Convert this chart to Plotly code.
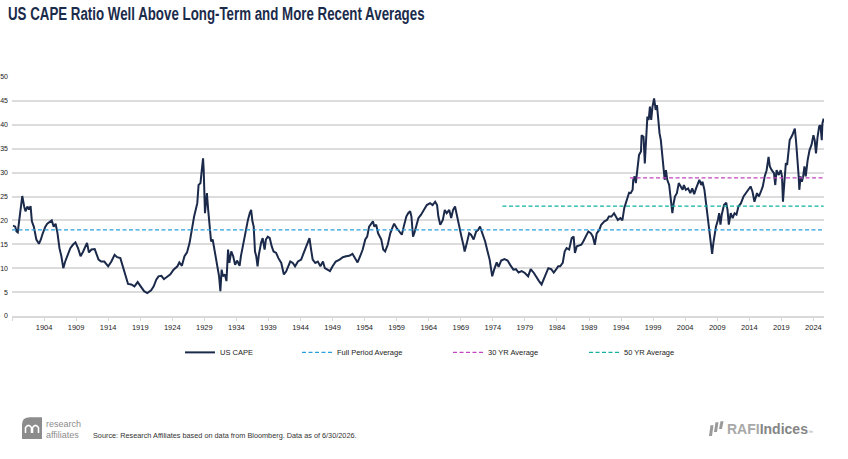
import plotly.graph_objects as go

# ---- data ----
years = [
    1899.16, 1899.5, 1899.7, 1899.9, 1900.2, 1900.45, 1900.6, 1900.9, 1901.1, 1901.4, 1901.65, 1901.9,
    1902.1, 1902.4, 1902.8, 1903.2, 1903.5, 1903.8, 1904.2, 1904.5, 1904.9, 1905.2, 1905.5, 1905.8,
    1906.1, 1906.4, 1906.7, 1907.0, 1907.3, 1907.7, 1908.1, 1908.5, 1908.9, 1909.3, 1909.7, 1910.1,
    1910.4, 1910.7, 1911.0, 1911.4, 1911.9, 1912.1, 1912.5, 1912.9, 1913.4, 1914.0, 1914.5, 1915.0,
    1915.4, 1915.9, 1916.3, 1916.7, 1917.1, 1917.6, 1918.1, 1918.6, 1919.1, 1919.6, 1920.1, 1920.6,
    1920.7, 1921.1, 1921.5, 1921.85, 1922.3, 1922.7, 1923.2, 1923.7, 1924.2, 1924.8, 1925.1, 1925.5,
    1925.9, 1926.3, 1926.7, 1927.05, 1927.4, 1927.6, 1927.9, 1928.1, 1928.4, 1928.6, 1928.8, 1928.9,
    1929.1, 1929.3, 1929.4, 1929.6, 1929.85, 1930.05, 1930.3, 1930.6, 1930.8, 1931.1, 1931.3, 1931.5,
    1931.7, 1931.9, 1932.2, 1932.45, 1932.7, 1932.9, 1933.2, 1933.5, 1933.8, 1934.1, 1934.5, 1934.7,
    1935.0, 1935.3, 1935.5, 1935.8, 1936.1, 1936.3, 1936.5, 1936.7, 1936.9, 1937.1, 1937.3, 1937.5,
    1937.85, 1938.1, 1938.4, 1938.6, 1938.9, 1939.2, 1939.5, 1939.8, 1940.2, 1940.55, 1941.0, 1941.4,
    1941.75, 1942.1, 1942.4, 1942.8, 1943.15, 1943.6, 1944.1, 1944.5, 1944.9, 1945.2, 1945.4, 1945.65,
    1945.9, 1946.3, 1946.7, 1947.1, 1947.5, 1947.8, 1948.2, 1948.6, 1949.0, 1949.5, 1950.1, 1950.6,
    1951.1, 1951.6, 1952.1, 1952.5, 1952.9, 1953.3, 1953.7, 1954.1, 1954.4, 1954.7, 1955.0, 1955.3,
    1955.5, 1955.8, 1956.1, 1956.6, 1956.9, 1957.2, 1957.6, 1958.0, 1958.4, 1958.6, 1959.0, 1959.4,
    1959.8, 1960.1, 1960.5, 1960.8, 1961.1, 1961.3, 1961.55, 1961.75, 1962.1, 1962.4, 1962.8, 1963.2,
    1963.7, 1964.2, 1964.6, 1965.0, 1965.3, 1965.5, 1965.8, 1966.2, 1966.5, 1966.8, 1967.2, 1967.5,
    1967.8, 1968.1, 1968.4, 1968.8, 1969.1, 1969.45, 1969.6, 1969.95, 1970.3, 1970.6, 1971.0, 1971.4,
    1971.7, 1972.0, 1972.4, 1972.8, 1973.1, 1973.5, 1973.7, 1973.9, 1974.2, 1974.6, 1974.9, 1975.3,
    1975.8, 1976.3, 1976.7, 1977.2, 1977.6, 1978.0, 1978.5, 1979.0, 1979.5, 1979.9, 1980.4, 1980.8,
    1981.2, 1981.6, 1981.9, 1982.3, 1982.65, 1983.1, 1983.5, 1983.9, 1984.2, 1984.5, 1984.9, 1985.2,
    1985.5, 1985.9, 1986.3, 1986.6, 1986.8, 1987.1, 1987.5, 1987.8, 1988.1, 1988.5, 1988.9, 1989.3,
    1989.6, 1989.9, 1990.2, 1990.6, 1990.9, 1991.4, 1991.8, 1992.1, 1992.5, 1992.9, 1993.2, 1993.5,
    1993.9, 1994.2, 1994.5, 1994.7, 1995.0, 1995.25, 1995.5, 1995.8, 1995.9, 1996.1, 1996.3, 1996.55,
    1996.8, 1997.1, 1997.2, 1997.5, 1997.7, 1997.9, 1998.1, 1998.3, 1998.5, 1998.7, 1998.9, 1999.15,
    1999.4, 1999.6, 1999.8, 2000.0, 2000.2, 2000.4, 2000.6, 2000.8, 2001.0, 2001.2, 2001.5, 2001.8,
    2002.0, 2002.2, 2002.4, 2002.7, 2003.0, 2003.3, 2003.6, 2003.8, 2004.1, 2004.45, 2004.8, 2005.1,
    2005.4, 2005.7, 2006.0, 2006.21, 2006.5, 2006.7, 2007.0, 2007.25, 2007.5, 2007.8, 2008.0, 2008.2,
    2008.4, 2008.6, 2008.8, 2009.1, 2009.3, 2009.5, 2009.7, 2010.05, 2010.4, 2010.6, 2010.8, 2011.1,
    2011.4, 2011.7, 2012.0, 2012.3, 2012.7, 2013.1, 2013.5, 2013.9, 2014.2, 2014.5, 2014.8, 2015.2,
    2015.5, 2015.8, 2016.1, 2016.4, 2016.7, 2017.0, 2017.2, 2017.5, 2017.85, 2018.05, 2018.25, 2018.6,
    2018.9, 2019.1, 2019.25, 2019.5, 2019.7, 2019.9, 2020.1, 2020.3, 2020.7, 2020.9, 2021.1, 2021.3,
    2021.5, 2021.7, 2021.8, 2022.0, 2022.2, 2022.4, 2022.6, 2022.8, 2023.1, 2023.4, 2023.7, 2024.0,
    2024.2, 2024.4, 2024.65, 2024.9, 2025.1, 2025.3, 2025.4, 2025.6,
]
cape = [
    18.9, 18.7, 17.7, 17.5, 20.8, 23.6, 25.1, 22.9, 21.9, 22.9, 22.3, 23.0,
    19.8, 18.7, 16.0, 15.1, 16.0, 17.3, 18.7, 19.3, 19.8, 20.0, 18.7, 19.3,
    17.3, 14.2, 12.5, 10.0, 11.4, 12.8, 14.2, 14.9, 15.4, 14.2, 12.5, 13.5,
    14.6, 15.3, 13.3, 13.9, 14.0, 13.3, 11.8, 11.4, 11.4, 10.4, 11.4, 12.8,
    12.3, 12.1, 10.4, 8.7, 6.7, 6.6, 6.2, 7.1, 6.2, 5.2, 4.8, 5.3,
    5.4, 6.2, 7.6, 8.3, 8.4, 7.7, 8.2, 8.7, 9.7, 10.4, 11.2, 10.5,
    12.5, 13.3, 15.3, 18.4, 20.8, 21.9, 23.6, 27.4, 27.8, 30.5, 33.0, 30.5,
    21.5, 24.3, 25.7, 22.2, 18.4, 15.6, 16.0, 13.9, 12.5, 9.7, 8.3, 5.2,
    9.7, 8.3, 8.7, 7.3, 13.9, 11.1, 13.5, 12.5, 10.7, 11.6, 10.5, 12.5,
    14.6, 16.6, 18.7, 20.1, 21.6, 22.2, 19.8, 18.7, 13.5, 12.5, 10.4, 12.8,
    15.3, 16.3, 13.9, 16.0, 16.6, 16.3, 14.6, 13.5, 13.2, 12.1, 11.1, 8.7,
    9.3, 10.4, 11.4, 11.1, 10.4, 11.4, 11.8, 13.2, 14.6, 16.0, 16.3, 13.9,
    11.8, 11.1, 11.4, 10.4, 11.4, 10.0, 9.7, 9.4, 10.4, 11.4, 11.8, 12.3,
    12.5, 12.6, 13.0, 12.1, 11.2, 12.5, 13.9, 16.0, 16.6, 18.7, 19.4, 19.8,
    18.7, 19.1, 17.3, 16.0, 13.9, 13.5, 14.9, 17.3, 18.7, 19.3, 18.4, 17.7,
    17.0, 18.7, 20.8, 21.5, 21.9, 20.8, 16.6, 17.3, 19.4, 20.5, 21.2, 22.2,
    23.2, 23.6, 23.2, 23.9, 23.2, 20.8, 19.1, 20.1, 22.2, 21.5, 22.2, 20.5,
    22.2, 22.9, 20.8, 18.7, 16.6, 14.6, 13.5, 15.3, 17.3, 17.0, 16.0, 17.7,
    18.0, 18.7, 17.3, 15.6, 13.9, 11.8, 10.0, 8.3, 9.7, 11.2, 10.3, 11.6,
    11.9, 11.6, 10.7, 9.7, 9.8, 9.1, 9.4, 9.0, 8.3, 9.8, 9.0, 8.0,
    7.3, 6.6, 7.6, 9.0, 10.0, 9.8, 9.1, 9.8, 10.4, 10.4, 11.1, 13.5,
    14.2, 13.9, 16.3, 16.6, 13.2, 14.6, 14.7, 14.9, 15.6, 16.6, 17.7, 17.3,
    16.6, 14.9, 17.3, 18.0, 19.1, 19.8, 20.1, 20.8, 20.8, 21.5, 20.8, 20.1,
    20.5, 20.0, 22.6, 23.6, 25.0, 25.8, 25.7, 26.4, 28.5, 29.2, 27.8, 31.6,
    33.7, 34.4, 37.8, 37.5, 31.9, 36.8, 41.7, 41.0, 43.8, 41.0, 43.8, 45.5,
    43.1, 44.1, 41.0, 38.2, 36.8, 33.7, 32.3, 28.5, 30.5, 28.5, 27.4, 22.9,
    21.5, 23.6, 25.0, 25.7, 27.8, 27.1, 26.4, 27.4, 26.4, 26.7, 25.7, 26.7,
    25.5, 26.7, 27.8, 28.5, 27.4, 28.1, 26.4, 23.6, 21.5, 17.3, 15.6, 13.0,
    15.3, 17.3, 18.7, 20.1, 21.5, 19.1, 21.2, 23.2, 23.7, 22.2, 19.1, 21.5,
    20.5, 21.5, 21.2, 22.9, 23.6, 25.0, 25.7, 26.4, 27.1, 26.0, 23.9, 25.7,
    25.0, 26.0, 27.1, 29.2, 30.5, 33.3, 31.3, 30.5, 29.9, 27.4, 30.5, 29.5,
    30.5, 29.2, 23.9, 28.5, 32.0, 31.6, 34.0, 36.8, 37.8, 38.5, 39.2, 36.4,
    33.3, 29.2, 26.4, 29.2, 28.1, 29.2, 31.3, 29.2, 32.6, 34.7, 35.8, 37.8,
    36.8, 34.0, 37.5, 39.7, 39.9, 36.8, 40.3, 41.3,
]

avg_names = ["Full Period Average", "30 YR Average", "50 YR Average"]
avg_values = [18.0, 28.9, 23.0]
avg_starts = [1899.0, 1995.4, 1975.5]
avg_end = 2025.6
avg_colors = ["#2a9fe0", "#c445c0", "#12b2a2"]

tick_years = [1899] + list(range(1904, 2025, 5))
tick_labels = [""] + [str(y) for y in range(1904, 2025, 5)]
y_ticks = [0, 5, 10, 15, 20, 25, 30, 35, 40, 45, 50]

# ---- figure ----
W, H = 848, 459
L, R, T, B = 12, 824, 76.7, 316.5


def px(x):
    return (x - L) / (R - L)


def py(y):
    return (B - y) / (B - T)


# legend text start positions (pixels) in the reference
legend_text_x = [219, 336, 487, 623]
legend_ids = ["legend", "legend2", "legend3", "legend4"]

fig = go.Figure()
fig.add_trace(go.Scatter(x=years, y=cape, mode="lines", name="US CAPE", legend="legend",
                         line=dict(color="#1b2a4a", width=2)))
for n, v, s, c, lg in zip(avg_names, avg_values, avg_starts, avg_colors, legend_ids[1:]):
    fig.add_trace(go.Scatter(x=[s, avg_end], y=[v, v], mode="lines", name=n, legend=lg,
                             line=dict(color=c, width=1.3, dash="4px,2.5px")))

legend_common = dict(orientation="h", xanchor="left", y=py(353), yanchor="middle",
                     font=dict(size=7.5, color="#222222"), bgcolor="rgba(0,0,0,0)")
legend_layout = {lg: dict(x=px(tx - 39), **legend_common) for lg, tx in zip(legend_ids, legend_text_x)}

fig.update_layout(
    width=W, height=H,
    margin=dict(l=L, r=W - R, t=T, b=H - B, pad=0, autoexpand=False),
    paper_bgcolor="white", plot_bgcolor="white",
    font=dict(family="Liberation Sans, Arial, sans-serif", size=7.5, color="#222222"),
    showlegend=True,
    title=dict(text="<b>US CAPE Ratio Well Above Long-Term and More Recent Averages</b>",
               x=8 / W, xanchor="left", xref="container", y=1 - 6.5 / H, yanchor="top", yref="container",
               font=dict(family="Liberation Sans, Arial, sans-serif", size=19, color="#1b2b4b")),
    **legend_layout,
)

fig.update_xaxes(range=[1899.0, 2025.65], tickmode="array", tickvals=tick_years, ticktext=tick_labels,
                 showgrid=False, zeroline=False, showline=True, linecolor="#d9d9d9", linewidth=1.5,
                 ticks="outside", ticklen=3, tickcolor="#d9d9d9", tickwidth=1, automargin=False,
                 tickfont=dict(size=7.5, color="#222222"))
fig.update_yaxes(range=[0, 50], tickvals=y_ticks, showgrid=True, gridcolor="#dcdcdc", gridwidth=1.5,
                 zeroline=False, showline=False, ticks="", tickfont=dict(size=7, color="#222222"),
                 ticklabelstandoff=3, automargin=False)

# footer: research affiliates logo
fig.add_shape(type="path", xref="paper", yref="paper",
              path=f"M {px(22)} {py(440)} L {px(22)} {py(425)} Q {px(22)} {py(418)} {px(30)} {py(418)} "
                   f"L {px(42)} {py(418)} L {px(42)} {py(440)} Z",
              fillcolor="#8c8c8c", line=dict(width=0))
for cx in (28.5, 35.5):
    fig.add_shape(type="path", xref="paper", yref="paper",
                  path=f"M {px(cx-3)} {py(434)} L {px(cx-3)} {py(428.5)} Q {px(cx)} {py(424)} {px(cx+3)} {py(428.5)} "
                       f"L {px(cx+3)} {py(434)}",
                  line=dict(color="white", width=1.6))
fig.add_annotation(text="research", xref="paper", yref="paper", x=px(44), y=py(425), xanchor="left",
                   yanchor="middle", showarrow=False, font=dict(size=9, color="#8c8c8c"))
fig.add_annotation(text="affiliates", xref="paper", yref="paper", x=px(44), y=py(436), xanchor="left",
                   yanchor="middle", showarrow=False, font=dict(size=9, color="#8c8c8c"))
fig.add_annotation(text="Source: Research Affiliates based on data from Bloomberg. Data as of 6/30/2026.",
                   xref="paper", yref="paper", x=px(91), y=py(436.5), xanchor="left", yanchor="middle",
                   showarrow=False, font=dict(size=7.3, color="#333333"))

# footer: RAFI Indices logo
for i, (x0, x1) in enumerate([(709, 712), (714, 717), (719, 722)]):
    top = [426, 423, 422][i]
    bot = [437, 433, 430][i]
    fig.add_shape(type="path", xref="paper", yref="paper",
                  path=f"M {px(x0)} {py(bot)} L {px(x0+1.5)} {py(top)} L {px(x1+1.5)} {py(top)} L {px(x1)} {py(bot)} Z",
                  fillcolor="#9a9a9a", line=dict(width=0))
fig.add_annotation(text="<b><span style='color:#a8a8a8'>RAFI</span><span style='color:#858585'>Indices</span></b>"
                        "<span style='font-size:5px;color:#999999'>™</span>",
                   xref="paper", yref="paper", x=px(725), y=py(430), xanchor="left", yanchor="middle",
                   showarrow=False, font=dict(size=14, color="#888888"))

# condense the title horizontally (the reference uses a narrow face) so it spans x=8..425
post = """
var gd = document.getElementById('{plot_id}');
function condenseTitle() {
  var t = gd.querySelector('.g-gtitle text, .gtitle');
  if (!t) return;
  t.removeAttribute('transform');
  var bb = t.getBBox();
  if (!bb.width) return;
  var s = 417 / bb.width;
  var x0 = bb.x;
  t.setAttribute('transform', 'translate(' + x0 + ',0) scale(' + s + ',1) translate(' + (-x0) + ',0)');
}
condenseTitle();
gd.on('plotly_afterplot', condenseTitle);
"""

fig.write_html("out.html", post_script=post)
